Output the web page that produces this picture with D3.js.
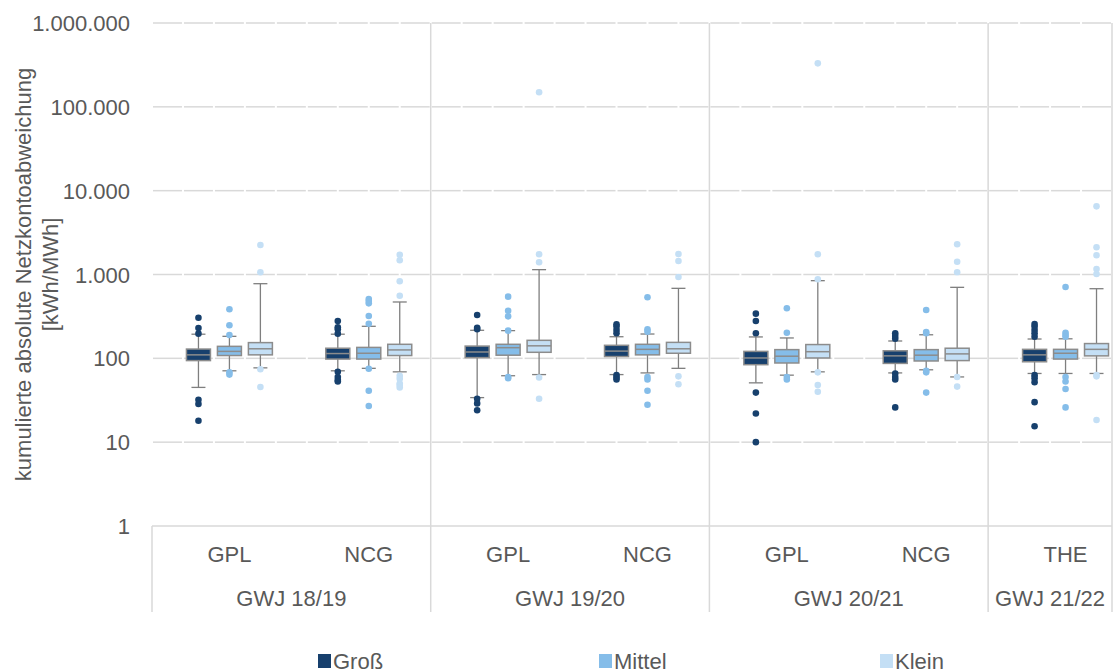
<!DOCTYPE html>
<html>
<head>
<meta charset="utf-8">
<script src="https://cdn.jsdelivr.net/npm/d3@7"></script>
<style>
  body { margin: 0; background: #fff; }
  text { font-family: "Liberation Sans", Arial, sans-serif; fill: #595959; }
</style>
</head>
<body>
<div id="chart"></div>
<script>
// categories on the x axis (market area) and the gas year each belongs to
var groups = ["GWJ 18/19", "GWJ 19/20", "GWJ 20/21", "GWJ 21/22"];
var categories = ["GPL", "NCG", "GPL", "NCG", "GPL", "NCG", "THE"];
var categoryGroup = [0, 0, 1, 1, 2, 2, 3];
var sizes = ["Groß", "Mittel", "Klein"];
var yTicks = [1, 10, 100, 1000, 10000, 100000, 1000000];

// box stats per category: [lower whisker, q1, median, q3, upper whisker]
var grossBoxes = [
  [45, 94, 110, 129, 194],
  [71, 98, 114, 132, 194],
  [34, 102, 119, 140, 216],
  [64, 105, 122, 143, 181],
  [51, 84, 101, 121, 180],
  [67, 87, 107, 123, 161],
  [66, 91, 110, 128, 170]
];
var mittelBoxes = [
  [71, 108, 121, 139, 183],
  [76, 98, 115, 135, 241],
  [62, 109, 134, 147, 214],
  [67, 110, 128, 147, 195],
  [63, 88, 106, 127, 175],
  [73, 93, 109, 127, 191],
  [66, 98, 115, 128, 171]
];
var kleinBoxes = [
  [77, 110, 130, 154, 777],
  [69, 108, 126, 147, 470],
  [64, 118, 141, 164, 1142],
  [76, 115, 130, 155, 684],
  [69, 101, 120, 146, 844],
  [60, 94, 113, 132, 703],
  [66, 107, 128, 150, 677]
];

// outliers per category
var grossOutliers = [
  [305, 230, 197, 32, 28.5, 18],
  [279, 235, 222, 197, 69, 60, 55, 53],
  [329, 232, 223, 33, 29, 24],
  [255, 239, 218, 199, 63, 59, 56],
  [341, 279, 199, 39, 22, 10],
  [199, 185, 171, 66, 60, 56, 26],
  [257, 239, 218, 199, 181, 63, 58, 52, 30, 15.5]
];
var mittelOutliers = [
  [385, 248, 190, 68, 64],
  [510, 483, 453, 320, 259, 75, 41, 27],
  [544, 370, 317, 214, 60, 58],
  [535, 222, 208, 60, 56, 41, 28],
  [395, 202, 60, 56],
  [377, 206, 199, 71, 68, 39],
  [710, 202, 190, 181, 60, 53, 43, 26]
];
var kleinOutliers = [
  [2250, 1063, 74, 45.5],
  [1722, 1476, 830, 558, 62, 57, 50, 48, 45],
  [149000, 1742, 1400, 59, 33],
  [1757, 1449, 933, 61, 49],
  [330000, 1742, 876, 68, 48, 40],
  [2291, 1422, 1063, 60, 46],
  [6500, 2110, 1695, 1164, 1014, 63, 61, 18.4]
];

var boxes = [grossBoxes, mittelBoxes, kleinBoxes];
var outliers = [grossOutliers, mittelOutliers, kleinOutliers];
var colors = ["#17406d", "#85bde9", "#c4dff5"];

var width = 1113, height = 671;
var plotLeft = 152, plotRight = 1112, plotTop = 23, plotBottom = 526;
var fontSize = "22px";

var svg = d3.select("#chart").append("svg")
  .attr("width", width)
  .attr("height", height);

// every category takes 4.5 slots, the last year is cut at the plot edge (31 slots)
var totalSlots = 31;
var x = d3.scaleLinear().domain([0, totalSlots]).range([plotLeft, plotRight]);
var y = d3.scaleLog().domain([1, 1000000]).range([plotBottom, plotTop]);

var de = d3.formatLocale({decimal: ",", thousands: ".", grouping: [3], currency: ["", " €"]});
var fmt = de.format(",d");

function catStart(i) {
  var g = categoryGroup[i];
  var idx = i - categoryGroup.indexOf(g);
  return g * 9 + idx * 4.5;
}
function boxCenter(i, s) {
  return x(catStart(i) + 1.5 + s);
}

// gridlines, broken at every slot like in the original
var slots = d3.range(totalSlots);
yTicks.slice(1).forEach(function(t) {
  svg.append("g").selectAll("line")
    .data(slots)
    .enter()
    .append("line")
    .attr("x1", function(k) { return x(k) + 1; })
    .attr("x2", function(k) { return x(k + 1) - 1; })
    .attr("y1", y(t))
    .attr("y2", y(t))
    .attr("stroke", "#d9d9d9")
    .attr("stroke-width", 1.5);
});

// category axis line
svg.append("line")
  .attr("x1", plotLeft).attr("x2", plotRight)
  .attr("y1", y(1)).attr("y2", y(1))
  .attr("stroke", "#d9d9d9").attr("stroke-width", 1.5);

// year separators
var groupStarts = [9, 18, 27, totalSlots];
svg.selectAll(".sep")
  .data(groupStarts)
  .enter()
  .append("line")
  .attr("x1", function(d) { return x(d); })
  .attr("x2", function(d) { return x(d); })
  .attr("y1", plotTop)
  .attr("y2", 612)
  .attr("stroke", "#d9d9d9")
  .attr("stroke-width", 1.5);
svg.append("line")
  .attr("x1", x(0)).attr("x2", x(0))
  .attr("y1", y(1)).attr("y2", 612)
  .attr("stroke", "#d9d9d9").attr("stroke-width", 1.5);

// y tick labels
svg.selectAll(".ytick")
  .data(yTicks)
  .enter()
  .append("text")
  .attr("x", 130)
  .attr("y", function(d) { return y(d) + 8; })
  .attr("text-anchor", "end")
  .style("font-size", fontSize)
  .text(function(d) { return fmt(d); });

// y axis title
var title = svg.append("text")
  .attr("transform", "translate(0," + ((plotTop + plotBottom) / 2) + ") rotate(-90)")
  .attr("text-anchor", "middle")
  .style("font-size", fontSize);
title.append("tspan").attr("x", 0).attr("y", 31).text("kumulierte absolute Netzkontoabweichung");
title.append("tspan").attr("x", 0).attr("y", 58).text("[kWh/MWh]");

// category labels, centred on the middle box
svg.selectAll(".cat")
  .data(categories)
  .enter()
  .append("text")
  .attr("x", function(d, i) { return boxCenter(i, 1); })
  .attr("y", 562)
  .attr("text-anchor", "middle")
  .style("font-size", fontSize)
  .text(function(d) { return d; });

var groupBounds = [0, 9, 18, 27, totalSlots];
svg.selectAll(".grp")
  .data(groups)
  .enter()
  .append("text")
  .attr("x", function(d, i) { return (x(groupBounds[i]) + x(groupBounds[i + 1])) / 2; })
  .attr("y", 606)
  .attr("text-anchor", "middle")
  .style("font-size", fontSize)
  .text(function(d) { return d; });

// box plots
var boxW = 24, capW = 14;
sizes.forEach(function(size, s) {
  var g = svg.append("g");
  var stats = boxes[s];
  stats.forEach(function(b, i) {
    var cx = boxCenter(i, s);
    g.append("line")
      .attr("x1", cx).attr("x2", cx)
      .attr("y1", y(b[0])).attr("y2", y(b[4]))
      .attr("stroke", "#7f7f7f").attr("stroke-width", 1.3);
    [b[0], b[4]].forEach(function(v) {
      g.append("line")
        .attr("x1", cx - capW / 2).attr("x2", cx + capW / 2)
        .attr("y1", y(v)).attr("y2", y(v))
        .attr("stroke", "#7f7f7f").attr("stroke-width", 1.3);
    });
    g.append("rect")
      .attr("x", cx - boxW / 2)
      .attr("y", y(b[3]))
      .attr("width", boxW)
      .attr("height", y(b[1]) - y(b[3]))
      .attr("fill", colors[s])
      .attr("stroke", "#8c8c8c")
      .attr("stroke-width", 1.5);
    g.append("line")
      .attr("x1", cx - boxW / 2).attr("x2", cx + boxW / 2)
      .attr("y1", y(b[2])).attr("y2", y(b[2]))
      .attr("stroke", "#8c8c8c").attr("stroke-width", 1.5);
    g.selectAll(".out" + i)
      .data(outliers[s][i])
      .enter()
      .append("circle")
      .attr("cx", cx)
      .attr("cy", function(v) { return y(v); })
      .attr("r", 3.3)
      .attr("fill", colors[s]);
  });
});

// legend (cut at the bottom edge in the original too)
var legend = svg.selectAll(".legend")
  .data(sizes)
  .enter()
  .append("g")
  .attr("transform", function(d, i) { return "translate(" + (318 + i * 281) + ",0)"; });
legend.append("rect")
  .attr("x", 0).attr("y", 654)
  .attr("width", 13).attr("height", 14)
  .attr("fill", function(d, i) { return colors[i]; });
legend.append("text")
  .attr("x", 15).attr("y", 669)
  .style("font-size", fontSize)
  .text(function(d) { return d; });
</script>
</body>
</html>
